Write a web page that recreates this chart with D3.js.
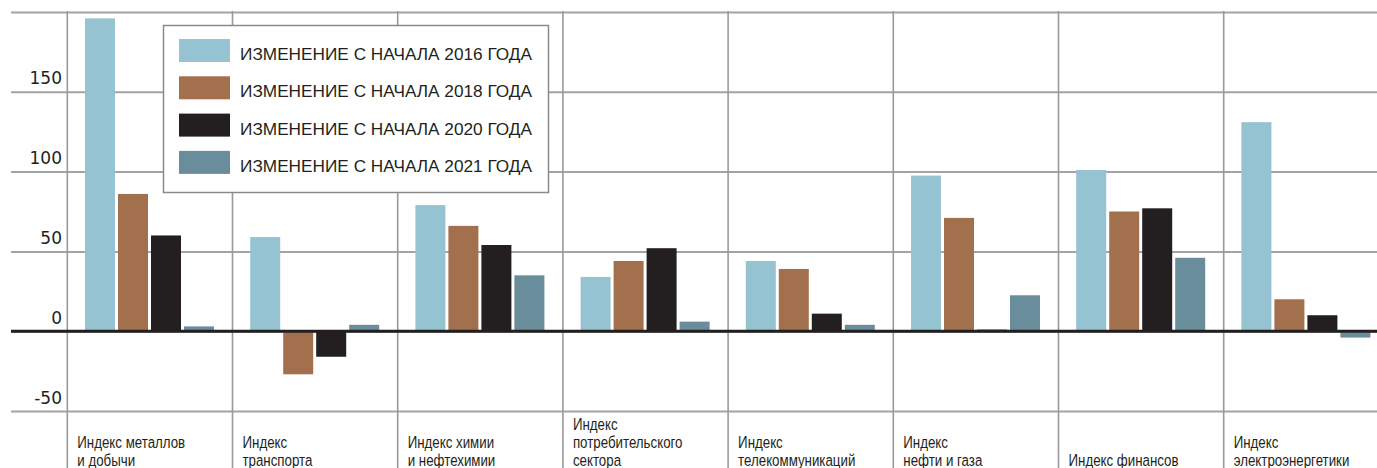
<!DOCTYPE html>
<meta charset="utf-8">
<script src="https://d3js.org/d3.v7.min.js"></script>
<style>
  body { margin: 0; background: #fff; }
  svg { display: block; }
  .ylab { font-family: "DejaVu Sans", sans-serif; font-size: 17px; fill: #231f20; }
  .leg { font-family: "Liberation Sans", Arial, sans-serif; font-size: 17px; fill: #231f20; }
  .cat { font-family: "Liberation Sans", Arial, sans-serif; font-size: 17px; fill: #231f20; }
</style>
<div id="chart"></div>
<script>
// categories (line breaks inside labels marked with |)
const categories = [
  "Индекс металлов|и добычи",
  "Индекс|транспорта",
  "Индекс химии|и нефтехимии",
  "Индекс|потребительского|сектора",
  "Индекс|телекоммуникаций",
  "Индекс|нефти и газа",
  "Индекс финансов",
  "Индекс|электроэнергетики"
];
const seriesNames = [
  "ИЗМЕНЕНИЕ С НАЧАЛА 2016 ГОДА",
  "ИЗМЕНЕНИЕ С НАЧАЛА 2018 ГОДА",
  "ИЗМЕНЕНИЕ С НАЧАЛА 2020 ГОДА",
  "ИЗМЕНЕНИЕ С НАЧАЛА 2021 ГОДА"
];
const s2016 = [196, 59, 79, 34, 44, 97.5, 101, 131];
const s2018 = [86, -27, 66, 44, 39, 71, 75, 20];
const s2020 = [60, -16, 54, 52, 11, 1, 77, 10];
const s2021 = [3, 4, 35, 6, 4, 22.5, 46, -4];
const yTicks = [-50, 0, 50, 100, 150, 200];
const yTickLabels = ["-50", "0", "50", "100", "150", ""];
const colors = ["#96c3d2", "#a2704c", "#231f20", "#6a8d9c"];

const W = 1377, H = 468;
const svg = d3.select("#chart").append("svg")
  .attr("width", W).attr("height", H);

const y = d3.scaleLinear().domain([-50, 200]).range([411, 12]);
const x = d3.scaleBand().domain(categories).range([67.3, 67.3 + 8 * 165.2]);
const xSub = d3.scaleBand().domain(seriesNames)
  .range([17.7, 146.7]).paddingInner(3 / 33).paddingOuter(0);

const allSeries = [s2016, s2018, s2020, s2021];
const data = categories.map((c, i) => ({
  cat: c,
  vals: seriesNames.map((s, k) => ({ s: s, v: allSeries[k][i], k: k }))
}));

// horizontal grid + y labels
const yAxis = svg.append("g")
  .attr("transform", "translate(11,0)")
  .call(d3.axisRight(y).tickValues(yTicks).tickSize(W - 11)
    .tickFormat((d, i) => yTickLabels[i]));
yAxis.select(".domain").remove();
yAxis.selectAll(".tick line").attr("stroke", "#a3a3a3").attr("stroke-width", 2);
yAxis.selectAll(".tick text")
  .attr("class", "ylab")
  .attr("x", 51).attr("dy", -8).attr("y", 0)
  .attr("text-anchor", "end")
  .attr("font-size", null).attr("font-family", null).attr("fill", null);

// vertical separators
svg.append("g").selectAll("line")
  .data(categories)
  .join("line")
  .attr("x1", d => x(d)).attr("x2", d => x(d))
  .attr("y1", y(200) - 1).attr("y2", H)
  .attr("stroke", "#999").attr("stroke-width", 1.6);

// bars
const groups = svg.append("g").selectAll("g")
  .data(data)
  .join("g")
  .attr("transform", d => `translate(${x(d.cat)},0)`);

// zero line
svg.append("line")
  .attr("x1", 11).attr("x2", W)
  .attr("y1", y(0)).attr("y2", y(0))
  .attr("stroke", "#231f20").attr("stroke-width", 3);

groups.selectAll("rect")
  .data(d => d.vals)
  .join("rect")
  .attr("x", d => xSub(d.s))
  .attr("width", xSub.bandwidth())
  .attr("y", d => y(Math.max(0, d.v)))
  .attr("height", d => Math.abs(y(d.v) - y(0)))
  .attr("fill", d => colors[d.k]);

// category labels, squeezed to a condensed look
const labels = groups.append("text").attr("class", "cat");
labels.each(function (d) {
  const lines = d.cat.split("|");
  const t = d3.select(this);
  lines.forEach((l, i) => {
    t.append("tspan")
      .attr("x", 0)
      .attr("y", 466 - (lines.length - 1 - i) * 18)
      .text(l);
  });
});
// "Индекс металлов" is about 108px wide in the original
const firstW = labels.node().firstChild.getComputedTextLength();
const squeeze = 108 / firstW;
labels.attr("transform", `translate(10,0) scale(${squeeze},1)`);

// legend
const leg = svg.append("g");
leg.append("rect")
  .attr("x", 163.5).attr("y", 25.5).attr("width", 385).attr("height", 167)
  .attr("fill", "#fff").attr("stroke", "#8a8a8a").attr("stroke-width", 1.5);
const legRows = leg.selectAll("g.row")
  .data(seriesNames)
  .join("g")
  .attr("class", "row")
  .attr("transform", (d, i) => `translate(179,${39 + i * 37.3})`);
legRows.append("rect")
  .attr("width", 51).attr("height", 23)
  .attr("fill", (d, i) => colors[i]);
legRows.append("text")
  .attr("class", "leg")
  .attr("x", 61).attr("y", 21)
  .attr("textLength", 292).attr("lengthAdjust", "spacingAndGlyphs")
  .text(d => d);
</script>
